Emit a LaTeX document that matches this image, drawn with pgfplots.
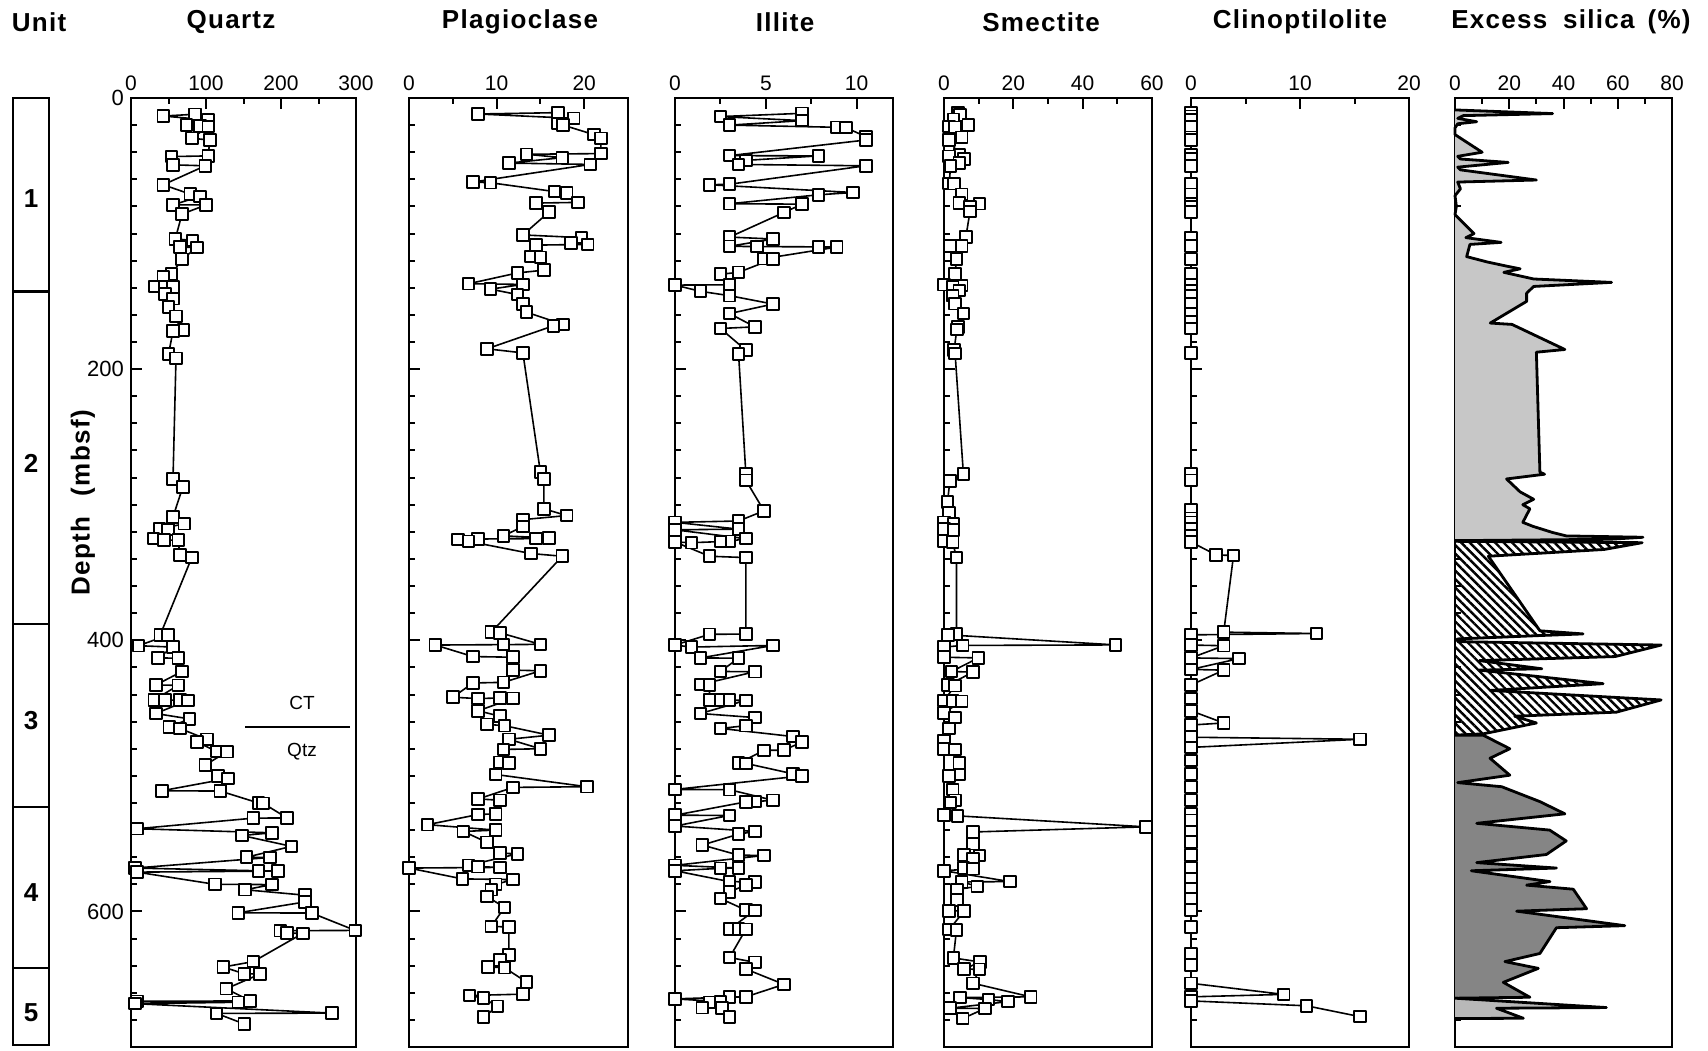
\documentclass[border=0pt]{standalone}
\usepackage{fontspec}
\setmainfont{Liberation Sans}
\newfontfamily\titlefont{Liberation Sans}[LetterSpace=5]
\usepackage{pgfplots}
\pgfplotsset{compat=1.18}
\usetikzlibrary{patterns.meta}
\pgfplotsset{
  panel/.style={
    scale only axis, height=474.5pt, anchor=south west,
    y dir=reverse, ymin=0, ymax=700,
    ytick={0,200,400,600}, minor ytick={20,40,...,680},
    yticklabels={}, ytick pos=left,
    xtick pos=right, xticklabel pos=right,
    tick align=inside,
    major tick length=5.5pt, minor tick length=3.2pt,
    axis line style={line width=1.3pt},
    tick style={black, line width=1pt},
    tick label style={font=\fontsize{10.5}{12}\selectfont},
    /pgf/number format/assume math mode=true,
    clip=false,
  },
  sq/.style={black, line width=0.8pt, line join=round, mark=square*, mark size=2.9pt,
    mark options={fill=white, draw=black, solid, line width=0.95pt}},
  silica/.style={draw=black, line width=1.4pt, line join=round, mark=none},
}
\newcommand{\ttl}{\titlefont\bfseries\fontsize{13}{15}\selectfont}
\begin{document}
\begin{tikzpicture}
\path[use as bounding box] (0,0) rectangle (854pt,525pt);

% Unit column
\begin{axis}[at={(6.5pt,2.5pt)}, anchor=south west, scale only axis, width=18pt, height=473.5pt,
  y dir=reverse, xmin=0, xmax=1, ymin=0, ymax=700, ticks=none, axis line style={line width=1.3pt}, clip=false]
\draw[line width=1.1pt] (axis cs:0,143) -- (axis cs:1,143);
\draw[line width=1.1pt] (axis cs:0,389) -- (axis cs:1,389);
\draw[line width=1.1pt] (axis cs:0,524) -- (axis cs:1,524);
\draw[line width=1.1pt] (axis cs:0,643) -- (axis cs:1,643);
\node[font=\ttl] at (axis cs:0.5,74) {1};
\node[font=\ttl] at (axis cs:0.5,270) {2};
\node[font=\ttl] at (axis cs:0.5,460) {3};
\node[font=\ttl] at (axis cs:0.5,587) {4};
\node[font=\ttl] at (axis cs:0.5,676) {5};
\end{axis}

% Quartz
\begin{axis}[panel, at={(65.5pt,1.5pt)}, width=112.5pt, xmin=0, xmax=300,
  xtick={0,100,200,300}, minor xtick={50,150,250},
  yticklabels={0,200,400,600}, yticklabel style={font=\fontsize{11}{12}\selectfont}]
\addplot[sq] coordinates {
(85,12) (43,13.3) (103,16.2) (74,19.9) (92,20.6) (103,21.1) (81,29.7) (105,31) (103,42.7) (54,43.2)
(56,49.3) (99,50) (43,64) (79,70.9) (92,72.6) (56,78.8) (100,78.9) (68,85.6) (59,104) (82,105)
(65,110) (88,110.2) (68,119) (54,130) (43,132) (32,139) (45,139.2) (56,139.4) (45,144.5) (56,148)
(50,154) (60,161) (70,171) (56,172) (50,189) (60,192) (56,281) (69,287) (56,309) (71,314)
(38,318) (49,318.2) (30,325) (44,326) (63,326.2) (65,337) (81,339) (39,396) (49,396.2) (10,404)
(56,405) (36,413) (63,413.2) (68,423) (33,433) (63,433.2) (31,444) (45,444.1) (65,444.2) (76,444.3)
(33,454) (78,458) (51,464) (65,465) (101,473) (88,475) (114,482) (128,482.2) (99,492) (116,500)
(129,502) (41,511) (119,511.2) (170,520) (176,520.2) (208,531) (163,531.2) (8,539) (188,542) (148,544)
(214,552) (154,560) (185,560.2) (5,568) (170,570) (196,570.2) (8,571) (112,580) (188,580.2) (152,584)
(232,588) (232,593) (143,601) (241,601.2) (299,614) (199,614.2) (208,616) (229,616.2) (163,637) (123,641)
(151,646) (172,646.2) (127,657) (159,666) (8,666.3) (143,667) (5,668) (268,675) (114,675.2) (151,683)
};
\draw[line width=0.8pt] (axis cs:152,464) -- (axis cs:292,464);
\node[font=\fontsize{9.5}{11}\selectfont] at (axis cs:228,446) {CT};
\node[font=\fontsize{9.5}{11}\selectfont] at (axis cs:228,482) {Qtz};
\end{axis}

% Plagioclase
\begin{axis}[panel, at={(204.5pt,1.5pt)}, width=109.5pt, xmin=0, xmax=25,
  xtick={0,10,20}, minor xtick={5,15}]
\addplot[sq] coordinates {
(17,10.8) (7.9,11.8) (18.8,15) (17,18.7) (17.6,20) (21.1,27) (21.9,29.7) (21.9,41) (13.4,41.5) (17.5,44)
(11.4,48) (20.7,49) (7.3,62) (9.3,62.5) (16.6,69) (18,70) (19.3,77) (14.5,77.5) (16,84) (13,101)
(19.7,103) (18.5,107) (20.4,108) (14.5,108.5) (13.9,117) (15,117.5) (15.4,127) (12.4,129) (6.8,137) (13,137.5)
(9.3,141) (12.4,145) (13,152) (13.4,158) (17.6,167) (16.5,168) (8.9,185) (13,188) (15,276) (15.4,281)
(15.4,303) (18,308) (13,311) (13,316) (10.8,323) (16,324.5) (14.5,325) (7.9,325.3) (5.6,325.6) (6.8,327)
(13.9,336) (17.5,338) (9.4,394) (10.4,394.5) (15,403) (10.8,403.2) (3,403.5) (7.3,412) (11.9,412.5) (11.9,422)
(15,422.5) (10.8,431) (7.3,431.5) (5,442) (7.9,443) (10.4,442.5) (11.9,442.8) (7.9,452) (10.4,456) (8.9,462)
(10.9,463) (16,470) (11.4,473) (15,480) (10.8,480.5) (10.4,490) (11.4,490.5) (9.9,499) (20.3,508) (11.9,508.5)
(7.9,517) (10.4,518) (9.9,528) (7.9,528.5) (2.1,536) (9.9,540) (6.2,541) (8.9,549) (10.4,557) (12.4,557.5)
(6.8,566) (7.9,567) (10.4,567.5) (0,568) (6.1,576) (11.9,576.5) (9.9,580) (9.4,584) (8.9,589) (10.9,597)
(9.4,611) (11.4,611.5) (11.4,632) (10.4,636) (9,641) (10.9,641.5) (13.4,652) (13,661) (6.9,662) (8.5,664)
(10.1,670) (8.5,678)
};
\end{axis}

% Illite
\begin{axis}[panel, at={(337.5pt,1.5pt)}, width=109pt, xmin=0, xmax=12,
  xtick={0,5,10}, minor xtick={2.5,7.5}]
\addplot[sq] coordinates {
(7,11.3) (2.5,13.7) (7,16.7) (3,20) (8.9,21.6) (9.4,21.8) (10.5,28.5) (10.5,31) (3,42.5) (7.9,42.7)
(3.9,46) (3.5,49) (10.5,50) (3,63.6) (1.9,64) (9.8,69.7) (7.9,71.4) (3,78) (7,78.3) (6,84.4)
(3,102.6) (5.4,104) (3,109.4) (4.5,109.6) (7.9,109.8) (8.9,110) (4.9,118.5) (5.4,118.7) (3.5,128.6) (2.5,130)
(3,137.8) (0,138) (1.4,142.6) (3,145.8) (5.4,152) (3,159) (4.4,168.8) (2.5,170) (3.9,186) (3.5,189)
(3.9,277) (3.9,282) (4.9,304.5) (3.5,312) (0,313) (3.5,318) (0,318.5) (3.9,325) (3,327) (2.5,327.2)
(0.9,328) (0,327.5) (1.9,338) (3.9,339) (3.9,395.4) (1.9,395.6) (0,403.5) (0.9,405) (5.4,403.8) (1.4,413)
(3.5,413.2) (2.5,423) (4.4,423.2) (1.4,432.6) (1.9,432.8) (1.9,444) (2.5,444.1) (3,444.2) (3.9,444.3) (1.4,454)
(4.4,457) (3.9,463) (2.5,465) (6.5,471) (7,475) (6,481) (4.9,481.2) (3.5,490.6) (3.9,490.8) (6.5,498.5)
(7,500) (0,510) (3,510.2) (5.4,518) (4.4,519) (3.9,519.2) (0,529) (3,529.2) (0,537) (4.4,541)
(3.5,543) (1.5,551) (3.5,558.5) (4.9,558.7) (0,566) (3.5,568) (2.5,568.2) (0,570) (3,578) (4.4,578.2)
(3.9,580.6) (3,585.5) (2.5,590.5) (3.9,599) (4.4,599.2) (3,613) (3.5,613.1) (3.9,613.2) (3,634) (4.4,637.5)
(3.9,642.5) (6,653.8) (3.9,663) (3,663.2) (0,664.5) (2.5,666.5) (1.9,667) (1.5,671) (2.6,671.2) (3,678)
};
\end{axis}

% Smectite
\begin{axis}[panel, at={(472pt,1.5pt)}, width=104pt, xmin=0, xmax=60,
  xtick={0,20,40,60}, minor xtick={10,30,50}]
\addplot[sq] coordinates {
(4.1,10.8) (4.6,12.5) (2.7,15.7) (7,20) (1.5,21) (3.2,21.6) (5.1,29) (1.5,31) (4.4,42) (1.5,43)
(5.8,45) (4.4,48) (1.9,50) (1.5,63) (2.9,63.2) (5.1,71) (4.4,77.5) (10.2,78) (7.5,80) (7.5,83.7)
(6.3,102.6) (1.7,109) (5.1,109.2) (3.6,118.8) (3.2,129.6) (0,137.7) (5.1,138.4) (2.5,139.5) (4.4,142) (2.5,145.8)
(3.2,151.7) (5.6,159) (4.1,168.8) (3.7,170.8) (2.9,186) (3.2,188.5) (5.6,277.5) (1.7,282.4) (1,298) (1.5,305.8)
(0,313) (2.7,314) (0,318) (2.7,318.5) (0,327) (2.5,327.5) (3.6,339) (3.6,395.4) (1.2,396) (49.5,403.4)
(5.4,403.8) (0,405) (0,412.5) (9.9,413) (2.2,423) (8.3,423.5) (1.2,433) (3.2,433.5) (0,444.5) (2.5,444.6)
(5.1,445) (0,453.5) (3.2,457) (1.5,465) (0,474) (0,480) (3.2,480.5) (4.4,490.6) (4.4,499) (1.5,500)
(2.5,510) (3.2,518) (1.9,519.6) (0,529) (3.9,529.5) (58.2,537.6) (8.3,541.4) (8.3,550) (5.8,558.5) (10.2,558.7)
(8.3,561) (5.6,568) (8.3,568.5) (0,570) (19,578) (5.1,578.2) (9.6,581.5) (3.8,583.8) (3.8,591.4) (1.5,599.5)
(5.8,599.7) (1.5,613.4) (3.6,613.6) (2.7,634.3) (10.4,637.3) (5.8,642.5) (10.2,642.7) (8.4,653) (25,663) (4.6,663.5)
(12.8,665) (18.5,666.5) (1.7,671.4) (11.8,671.6) (5.4,679)
};
\end{axis}

% Clinoptilolite
\begin{axis}[panel, at={(595.5pt,1.5pt)}, width=109pt, xmin=0, xmax=20,
  xtick={0,10,20}, minor xtick={5,15}]
\addplot[sq] coordinates {
(0,11) (0,13.5) (0,16) (0,21) (0,29) (0,31) (0,42) (0,45) (0,50) (0,63)
(0,71) (0,78) (0,80) (0,84) (0,103) (0,109) (0,119) (0,130) (0,138) (0,142)
(0,146) (0,152) (0,159) (0,165) (0,170) (0,188) (0,277) (0,282) (0,304) (0,310)
(0,313) (0,318) (0,323) (0,327.5) (2.3,337) (3.9,337.5) (3,394) (11.5,395) (0,396) (0,403.5)
(3,404) (0,413) (4.4,413.5) (0,421.5) (3,422) (0,433) (0,443) (0,452) (3,461) (0,462.5)
(0,471.5) (15.5,473) (0,479) (0,488.6) (0,498.4) (0,508.2) (0,518) (0,527.9) (0,532.8) (0,541.4)
(0,548.7) (0,558.5) (0,567.9) (0,575.7) (0,583) (0,590.4) (0,599) (0,611.3) (0,631) (0,639.5)
(0,653) (8.5,661.2) (0,663) (0,666) (10.6,669.6) (15.5,677.6)
};
\end{axis}

% Excess silica
\begin{axis}[panel, at={(727.5pt,1.5pt)}, width=108.5pt, xmin=0, xmax=80,
  xtick={0,20,40,60,80}, minor xtick={10,30,50,70}]
\addplot[silica, fill=black!22] coordinates {
(0,8.8) (36,11.5) (3,13) (1,15) (8,17.5) (1,19) (0,22) (0,27) (10,40) (1,43)
(2,45) (19.6,47.5) (1,51) (2,53) (30,60.5) (1,62) (2,67) (0,72) (0.5,80) (0,86)
(7,100) (4,103) (17,106.5) (5.5,108) (4.3,117) (12,121) (19,124) (24,126) (18,128.6) (29,133.5)
(57.7,136) (29,139) (26.4,144) (26.4,150) (13,166) (21,167) (40.5,185.5) (30,187.5) (31.3,276) (33,277.5)
(19,281) (24,290.5) (29,296) (25,300) (27.6,303) (25,313) (28.8,316) (36,320.5) (41,323) (69.3,324)
(57,325.5) (0,326.5)
};
\addplot[silica, pattern={Lines[angle=-45,distance=3pt,line width=1.2pt]}] coordinates {
(0,327) (69,328) (55,333) (12.3,338) (31.3,393) (47.2,395.3) (31.3,396.5) (1,399) (1,401) (76,403.5)
(59,412) (9,415) (32,421) (9,422) (54.6,432) (13,437) (76,444) (59.5,453) (22,456) (30,461)
(10.4,469) (0,470)
};
\addplot[silica, fill=black!48] coordinates {
(0,470) (10.4,470) (20.2,480) (12.9,487) (20.2,499.5) (1,505) (17.2,508) (31.3,519) (40.5,528) (8,535)
(34.9,540) (41,548) (33.7,558) (8,564) (37.4,568) (6,570) (35,578) (26.4,580.6) (43.6,583.6) (48.5,598)
(22.7,599.8) (62.6,610.5) (37.4,612) (31.3,631) (18.4,637) (30.7,642) (17.8,652.3) (27.6,663.3) (0,664)
};
\addplot[silica, fill=black!28] coordinates {
(0,664) (55.8,670.9) (15.3,671.4) (25.2,678.8) (0,679)
};
\end{axis}

% Titles
\node[font=\ttl] at (19.5pt,514pt) {Unit};
\node[font=\ttl] at (115.5pt,514pt) {Quartz};
\node[font=\ttl] at (260pt,514pt) {Plagioclase};
\node[font=\ttl] at (392.5pt,514pt) {Illite};
\node[font=\ttl] at (520.5pt,514pt) {Smectite};
\node[font=\ttl] at (650pt,514pt) {Clinoptilolite};
\node[font=\ttl] at (785.5pt,514pt) {Excess\hspace{0.6em}silica\hspace{0.5em}(\%)};
\node[font=\ttl, rotate=90] at (41.5pt,273.5pt) {Depth\hspace{0.8em}(mbsf)};
\end{tikzpicture}
\end{document}
